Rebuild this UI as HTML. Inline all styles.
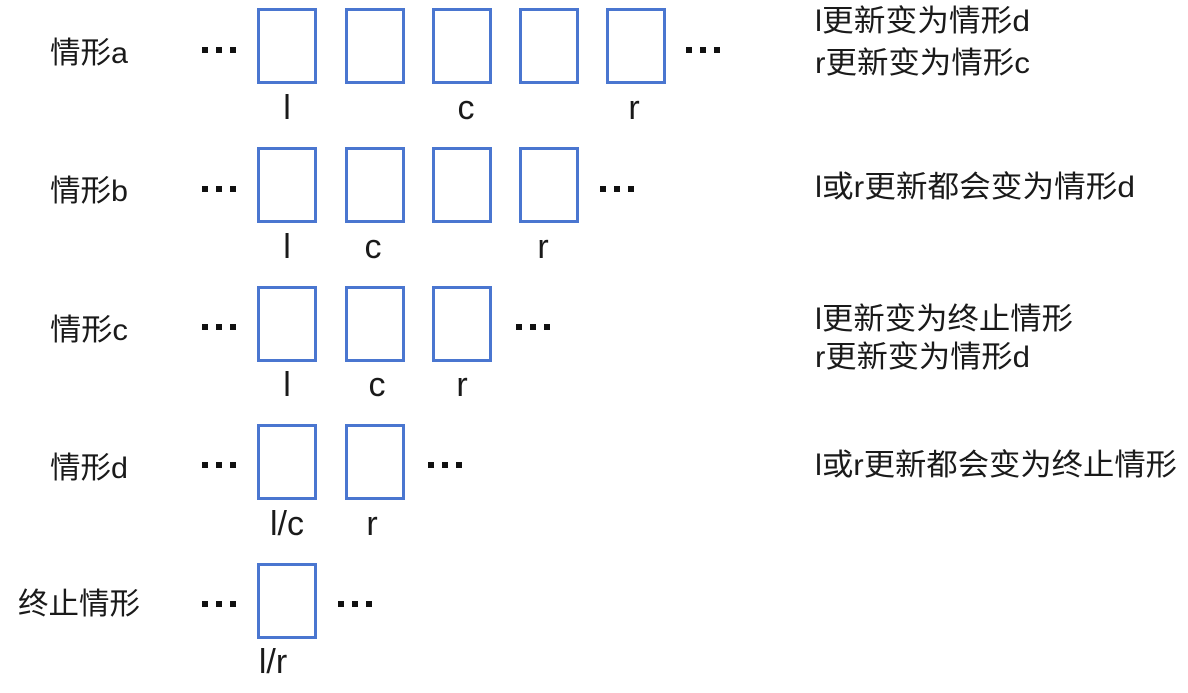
<!DOCTYPE html>
<html><head><meta charset="utf-8"><style>
html,body{margin:0;padding:0;background:#fff;width:1188px;height:693px;overflow:hidden}
svg{display:block}
text{font-family:"Liberation Sans","Noto Sans CJK SC",sans-serif;fill:#1a1a1a}
.b{fill:none;stroke:#4a76d0;stroke-width:3}
.l{font-size:34px}
.t{font-size:30px}
</style></head><body>
<svg width="1188" height="693" viewBox="0 0 1188 693">
<defs>
<g id="dots"><rect x="0" y="-3" width="6" height="6" fill="#111"/><rect x="14" y="-3" width="6" height="6" fill="#111"/><rect x="28" y="-3" width="6" height="6" fill="#111"/></g>
</defs>
<!-- row a -->
<text class="t" x="50" y="63" textLength="78" lengthAdjust="spacingAndGlyphs">情形a</text>
<use href="#dots" x="202" y="50"/>
<rect class="b" x="258.5" y="9.5" width="57" height="73"/>
<rect class="b" x="346.5" y="9.5" width="57" height="73"/>
<rect class="b" x="433.5" y="9.5" width="57" height="73"/>
<rect class="b" x="520.5" y="9.5" width="57" height="73"/>
<rect class="b" x="607.5" y="9.5" width="57" height="73"/>
<use href="#dots" x="686" y="50"/>
<text class="l" x="287" y="119" text-anchor="middle">l</text>
<text class="l" x="466" y="119" text-anchor="middle">c</text>
<text class="l" x="634" y="119" text-anchor="middle">r</text>
<text class="t" x="815" y="31" textLength="215" lengthAdjust="spacingAndGlyphs">l更新变为情形d</text>
<text class="t" x="815" y="73" textLength="215" lengthAdjust="spacingAndGlyphs">r更新变为情形c</text>
<!-- row b -->
<text class="t" x="50" y="201" textLength="78" lengthAdjust="spacingAndGlyphs">情形b</text>
<use href="#dots" x="202" y="189"/>
<rect class="b" x="258.5" y="148.5" width="57" height="73"/>
<rect class="b" x="346.5" y="148.5" width="57" height="73"/>
<rect class="b" x="433.5" y="148.5" width="57" height="73"/>
<rect class="b" x="520.5" y="148.5" width="57" height="73"/>
<use href="#dots" x="600" y="189"/>
<text class="l" x="287" y="258" text-anchor="middle">l</text>
<text class="l" x="373" y="258" text-anchor="middle">c</text>
<text class="l" x="543" y="258" text-anchor="middle">r</text>
<text class="t" x="815" y="197" textLength="320" lengthAdjust="spacingAndGlyphs">l或r更新都会变为情形d</text>
<!-- row c -->
<text class="t" x="50" y="340" textLength="78" lengthAdjust="spacingAndGlyphs">情形c</text>
<use href="#dots" x="202" y="327"/>
<rect class="b" x="258.5" y="287.5" width="57" height="73"/>
<rect class="b" x="346.5" y="287.5" width="57" height="73"/>
<rect class="b" x="433.5" y="287.5" width="57" height="73"/>
<use href="#dots" x="516" y="327"/>
<text class="l" x="287" y="396" text-anchor="middle">l</text>
<text class="l" x="377" y="396" text-anchor="middle">c</text>
<text class="l" x="462" y="396" text-anchor="middle">r</text>
<text class="t" x="815" y="329" textLength="258" lengthAdjust="spacingAndGlyphs">l更新变为终止情形</text>
<text class="t" x="815" y="367" textLength="215" lengthAdjust="spacingAndGlyphs">r更新变为情形d</text>
<!-- row d -->
<text class="t" x="50" y="478" textLength="78" lengthAdjust="spacingAndGlyphs">情形d</text>
<use href="#dots" x="202" y="465"/>
<rect class="b" x="258.5" y="425.5" width="57" height="73"/>
<rect class="b" x="346.5" y="425.5" width="57" height="73"/>
<use href="#dots" x="428" y="465"/>
<text class="l" x="287" y="535" text-anchor="middle">l/c</text>
<text class="l" x="372" y="535" text-anchor="middle">r</text>
<text class="t" x="815" y="475" textLength="362" lengthAdjust="spacingAndGlyphs">l或r更新都会变为终止情形</text>
<!-- end -->
<text class="t" x="18" y="614" textLength="122" lengthAdjust="spacingAndGlyphs">终止情形</text>
<use href="#dots" x="202" y="604"/>
<rect class="b" x="258.5" y="564.5" width="57" height="73"/>
<use href="#dots" x="338" y="604"/>
<text class="l" x="273" y="673" text-anchor="middle">l/r</text>
</svg>
</body></html>
